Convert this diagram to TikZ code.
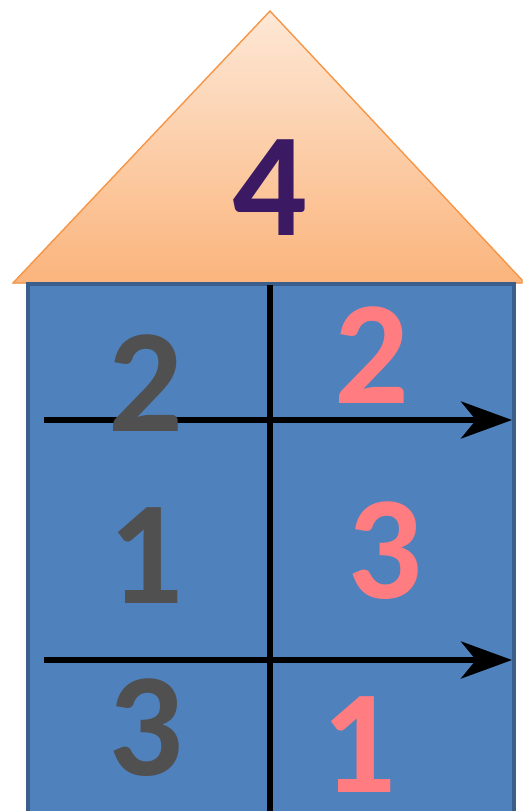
\documentclass[tikz,border=0pt]{standalone}
\usepackage{fontspec}
\newfontfamily\numfont{Carlito}[BoldFont={Carlito Bold}]
\usetikzlibrary{arrows.meta}
\definecolor{roofTop}{HTML}{FDE8D6}
\definecolor{roofBot}{HTML}{FBB47C}
\definecolor{roofEdge}{HTML}{F79646}
\definecolor{wallFill}{HTML}{4F81BD}
\definecolor{wallEdge}{HTML}{3A5F8C}
\definecolor{numGray}{HTML}{505050}
\definecolor{numPink}{HTML}{FF7C80}
\definecolor{numPurple}{HTML}{3B1A63}
\tikzset{
  bignum/.style={font=\numfont\fontsize{84}{84}\selectfont\bfseries, inner sep=0pt},
  axisline/.style={line width=3.4pt, black},
  axisarrow/.style={line width=3.4pt, black, -{Stealth[length=1.02cm, width=0.74cm, inset=0.3cm]}},
}
\begin{document}
\begin{tikzpicture}[x=0.02cm, y=-0.02cm]
\useasboundingbox (0,0) rectangle (522,811);
% roof
\fill[top color=roofTop, bottom color=roofBot, draw=roofEdge, line width=0.8pt]
  (270,11) -- (522,280) -- (522,283) -- (13,283) -- cycle;
% wall (continues below the page edge)
\draw[fill=wallFill, draw=wallEdge, line width=2.2pt] (28,284) rectangle (514,830);
% vertical axis
\coordinate (vtop) at (270,285);
\coordinate (vbot) at (270,825);
\draw[axisline] (vtop) -- (vbot);
% arrows
\coordinate (a1s) at (44,420);
\coordinate (a1e) at (512,420);
\coordinate (a2s) at (44,660);
\coordinate (a2e) at (512,660);
\draw[axisarrow] (a1s) -- (a1e);
\draw[axisarrow] (a2s) -- (a2e);
% numbers
\node[bignum, text=numPurple] (n4) at (270,188) {4};
\node[bignum, text=numGray] (l2) at (146,383) {2};
\node[bignum, text=numGray] (l1) at (146,556) {1};
\node[bignum, text=numGray] (l3) at (146,728) {3};
\node[bignum, text=numPink] (r2) at (372,355) {2};
\node[bignum, text=numPink] (r3) at (385,551) {3};
\node[bignum, text=numPink] (r1) at (359,745) {1};
\end{tikzpicture}
\end{document}
